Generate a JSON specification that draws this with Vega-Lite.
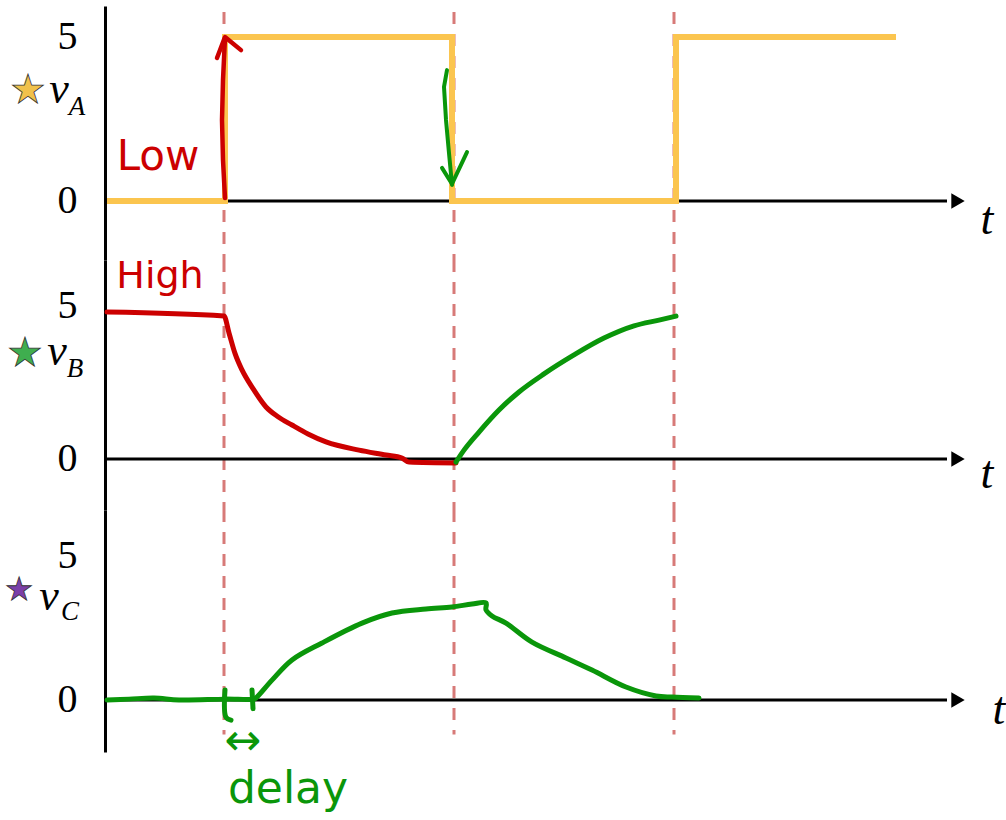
{
  "$schema": "https://vega.github.io/schema/vega-lite/v6.json",
  "padding": {"left": 4, "top": 6, "right": 0, "bottom": 0},
  "autosize": {"type": "pad"},
  "background": "white",
  "spacing": 0,
  "bounds": "flush",
  "config": {
    "view": {"stroke": null},
    "axisY": {"ticks": false, "grid": false, "domainColor": "black", "domainWidth": 3, "labelFont": "Liberation Serif", "labelFontSize": 40, "labelColor": "black", "labelPadding": 28, "labelFlush": false, "labelOverlap": false, "title": null},
    "line": {"strokeCap": "round", "strokeJoin": "round"}
  },
  "datasets": {
    "markers": [{"t": 11.9}, {"t": 34.9}, {"t": 56.9}],
    "one": [{}],
    "strokes": [
      {"s": "vA", "i": 0, "t": 0.2, "v": 0},
      {"s": "vA", "i": 1, "t": 12.0, "v": 0},
      {"s": "vA", "i": 2, "t": 12.0, "v": 5},
      {"s": "vA", "i": 3, "t": 34.7, "v": 5},
      {"s": "vA", "i": 4, "t": 34.7, "v": 0},
      {"s": "vA", "i": 5, "t": 57.1, "v": 0},
      {"s": "vA", "i": 6, "t": 57.1, "v": 5},
      {"s": "vA", "i": 7, "t": 79.1, "v": 5},
      {"s": "A_up_shaft", "i": 0, "t": 12.0, "v": 0.09},
      {"s": "A_up_shaft", "i": 1, "t": 11.8, "v": 1.25},
      {"s": "A_up_shaft", "i": 2, "t": 11.7, "v": 2.47},
      {"s": "A_up_shaft", "i": 3, "t": 11.8, "v": 3.69},
      {"s": "A_up_shaft", "i": 4, "t": 12.0, "v": 4.97},
      {"s": "A_up_head", "i": 0, "t": 11.2, "v": 4.36},
      {"s": "A_up_head", "i": 1, "t": 12.0, "v": 5.0},
      {"s": "A_up_head", "i": 2, "t": 13.6, "v": 4.6},
      {"s": "A_down_shaft", "i": 0, "t": 34.2, "v": 3.99},
      {"s": "A_down_shaft", "i": 1, "t": 33.9, "v": 3.48},
      {"s": "A_down_shaft", "i": 2, "t": 34.1, "v": 2.47},
      {"s": "A_down_shaft", "i": 3, "t": 34.4, "v": 1.46},
      {"s": "A_down_shaft", "i": 4, "t": 34.7, "v": 0.49},
      {"s": "A_down_head", "i": 0, "t": 33.7, "v": 1.01},
      {"s": "A_down_head", "i": 1, "t": 34.7, "v": 0.52},
      {"s": "A_down_head", "i": 2, "t": 36.2, "v": 1.49},
      {"s": "vB_fall", "i": 0, "t": 0.2, "v": 4.8},
      {"s": "vB_fall", "i": 1, "t": 11.9, "v": 4.67},
      {"s": "vB_fall", "i": 2, "t": 12.4, "v": 4.12},
      {"s": "vB_fall", "i": 3, "t": 13.0, "v": 3.45},
      {"s": "vB_fall", "i": 4, "t": 13.7, "v": 2.91},
      {"s": "vB_fall", "i": 5, "t": 14.8, "v": 2.3},
      {"s": "vB_fall", "i": 6, "t": 16.1, "v": 1.7},
      {"s": "vB_fall", "i": 7, "t": 17.3, "v": 1.38},
      {"s": "vB_fall", "i": 8, "t": 18.7, "v": 1.11},
      {"s": "vB_fall", "i": 9, "t": 20.3, "v": 0.82},
      {"s": "vB_fall", "i": 10, "t": 22.1, "v": 0.56},
      {"s": "vB_fall", "i": 11, "t": 25.4, "v": 0.29},
      {"s": "vB_fall", "i": 12, "t": 28.1, "v": 0.13},
      {"s": "vB_fall", "i": 13, "t": 29.7, "v": 0.03},
      {"s": "vB_fall", "i": 14, "t": 30.4, "v": -0.1},
      {"s": "vB_fall", "i": 15, "t": 35.1, "v": -0.13},
      {"s": "vB_rise", "i": 0, "t": 35.1, "v": -0.1},
      {"s": "vB_rise", "i": 1, "t": 35.9, "v": 0.29},
      {"s": "vB_rise", "i": 2, "t": 37.4, "v": 0.88},
      {"s": "vB_rise", "i": 3, "t": 39.4, "v": 1.6},
      {"s": "vB_rise", "i": 4, "t": 41.4, "v": 2.19},
      {"s": "vB_rise", "i": 5, "t": 43.9, "v": 2.78},
      {"s": "vB_rise", "i": 6, "t": 46.9, "v": 3.4},
      {"s": "vB_rise", "i": 7, "t": 49.9, "v": 3.95},
      {"s": "vB_rise", "i": 8, "t": 52.9, "v": 4.35},
      {"s": "vB_rise", "i": 9, "t": 55.4, "v": 4.54},
      {"s": "vB_rise", "i": 10, "t": 57.1, "v": 4.67},
      {"s": "vC", "i": 0, "t": 0.2, "v": 0},
      {"s": "vC", "i": 1, "t": 2.4, "v": 0.03},
      {"s": "vC", "i": 2, "t": 4.9, "v": 0.07},
      {"s": "vC", "i": 3, "t": 7.4, "v": 0},
      {"s": "vC", "i": 4, "t": 12.0, "v": 0.03},
      {"s": "vC", "i": 5, "t": 14.9, "v": 0.03},
      {"s": "vC", "i": 6, "t": 15.1, "v": 0.07},
      {"s": "vC", "i": 7, "t": 16.7, "v": 0.69},
      {"s": "vC", "i": 8, "t": 18.7, "v": 1.39},
      {"s": "vC", "i": 9, "t": 21.7, "v": 1.98},
      {"s": "vC", "i": 10, "t": 25.7, "v": 2.67},
      {"s": "vC", "i": 11, "t": 28.7, "v": 3.02},
      {"s": "vC", "i": 12, "t": 32.1, "v": 3.16},
      {"s": "vC", "i": 13, "t": 34.7, "v": 3.23},
      {"s": "vC", "i": 14, "t": 36.7, "v": 3.33},
      {"s": "vC", "i": 15, "t": 38.1, "v": 3.37},
      {"s": "vC", "i": 16, "t": 38.1, "v": 3.13},
      {"s": "vC", "i": 17, "t": 38.7, "v": 2.92},
      {"s": "vC", "i": 18, "t": 40.1, "v": 2.67},
      {"s": "vC", "i": 19, "t": 42.7, "v": 2.01},
      {"s": "vC", "i": 20, "t": 46.1, "v": 1.46},
      {"s": "vC", "i": 21, "t": 48.7, "v": 1.04},
      {"s": "vC", "i": 22, "t": 52.1, "v": 0.45},
      {"s": "vC", "i": 23, "t": 55.1, "v": 0.14},
      {"s": "vC", "i": 24, "t": 56.7, "v": 0.1},
      {"s": "vC", "i": 25, "t": 59.4, "v": 0.07},
      {"s": "C_tick1", "i": 0, "t": 12.0, "v": 0.35},
      {"s": "C_tick1", "i": 1, "t": 12.1, "v": -0.6},
      {"s": "C_tick1", "i": 2, "t": 12.6, "v": -0.7},
      {"s": "C_tick2", "i": 0, "t": 14.7, "v": 0.35},
      {"s": "C_tick2", "i": 1, "t": 14.8, "v": -0.3}
    ]
  },
  "vconcat": [
    {
      "width": 900,
      "height": 254,
      "layer": [
        {
          "data": {"name": "markers"},
          "mark": {"type": "rule", "color": "#d77a78", "strokeWidth": 3, "strokeDash": [12, 10]},
          "encoding": {
            "x": {"field": "t", "type": "quantitative", "scale": {"domain": [0, 90], "nice": false, "zero": false}, "axis": null},
            "y": {"datum": 5.76, "type": "quantitative", "scale": {"domain": [-1.799, 5.945], "nice": false, "zero": false}, "axis": {"values": [0, 5], "title": null}},
            "y2": {"datum": -1.8}
          }
        },
        {
          "data": {"name": "one"},
          "mark": {"type": "rule", "color": "black", "strokeWidth": 3},
          "encoding": {
            "x": {"datum": 0, "type": "quantitative", "scale": {"domain": [0, 90], "nice": false, "zero": false}, "axis": null},
            "x2": {"datum": 84.2},
            "y": {"datum": 0, "type": "quantitative", "scale": {"domain": [-1.799, 5.945], "nice": false, "zero": false}, "axis": {"values": [0, 5], "title": null}}
          }
        },
        {
          "data": {"name": "one"},
          "mark": {"type": "point", "shape": "triangle-right", "filled": true, "color": "black", "opacity": 1, "size": 240},
          "encoding": {
            "x": {"datum": 85.3, "type": "quantitative", "scale": {"domain": [0, 90], "nice": false, "zero": false}, "axis": null},
            "y": {"datum": 0, "type": "quantitative", "scale": {"domain": [-1.799, 5.945], "nice": false, "zero": false}, "axis": {"values": [0, 5], "title": null}}
          }
        },
        {
          "data": {"name": "one"},
          "mark": {"type": "text", "text": "t", "font": "Liberation Serif", "fontStyle": "italic", "fontSize": 46, "color": "black", "baseline": "alphabetic", "align": "center"},
          "encoding": {
            "x": {"datum": 88.2, "type": "quantitative", "scale": {"domain": [0, 90], "nice": false, "zero": false}, "axis": null},
            "y": {"datum": -1.01, "type": "quantitative", "scale": {"domain": [-1.799, 5.945], "nice": false, "zero": false}, "axis": {"values": [0, 5], "title": null}}
          }
        },
        {
          "data": {"name": "strokes"},
          "transform": [{"filter": {"field": "s", "equal": "vA"}}],
          "mark": {"type": "line", "color": "#fbc54f", "strokeWidth": 6, "strokeCap": "butt", "strokeJoin": "miter"},
          "encoding": {
            "x": {"field": "t", "type": "quantitative", "scale": {"domain": [0, 90], "nice": false, "zero": false}, "axis": null},
            "y": {"field": "v", "type": "quantitative", "scale": {"domain": [-1.799, 5.945], "nice": false, "zero": false}, "axis": {"values": [0, 5], "title": null}},
            "order": {"field": "i", "type": "quantitative"}
          }
        },
        {
          "data": {"name": "strokes"},
          "transform": [{"filter": {"field": "s", "oneOf": ["A_up_shaft", "A_up_head"]}}],
          "mark": {"type": "line", "color": "#cc0000", "strokeWidth": 4.5},
          "encoding": {
            "x": {"field": "t", "type": "quantitative", "scale": {"domain": [0, 90], "nice": false, "zero": false}, "axis": null},
            "y": {"field": "v", "type": "quantitative", "scale": {"domain": [-1.799, 5.945], "nice": false, "zero": false}, "axis": {"values": [0, 5], "title": null}},
            "detail": {"field": "s"},
            "order": {"field": "i", "type": "quantitative"}
          }
        },
        {
          "data": {"name": "strokes"},
          "transform": [{"filter": {"field": "s", "oneOf": ["A_down_shaft", "A_down_head"]}}],
          "mark": {"type": "line", "color": "#0a960a", "strokeWidth": 4},
          "encoding": {
            "x": {"field": "t", "type": "quantitative", "scale": {"domain": [0, 90], "nice": false, "zero": false}, "axis": null},
            "y": {"field": "v", "type": "quantitative", "scale": {"domain": [-1.799, 5.945], "nice": false, "zero": false}, "axis": {"values": [0, 5], "title": null}},
            "detail": {"field": "s"},
            "order": {"field": "i", "type": "quantitative"}
          }
        },
        {
          "data": {"name": "one"},
          "mark": {"type": "text", "text": "Low", "font": "DejaVu Sans", "fontSize": 42, "color": "#cc0000", "baseline": "alphabetic", "align": "center"},
          "encoding": {
            "x": {"datum": 5.3, "type": "quantitative", "scale": {"domain": [0, 90], "nice": false, "zero": false}, "axis": null},
            "y": {"datum": 0.95, "type": "quantitative", "scale": {"domain": [-1.799, 5.945], "nice": false, "zero": false}, "axis": {"values": [0, 5], "title": null}}
          }
        },
        {
          "data": {"name": "one"},
          "mark": {"type": "text", "text": "★", "font": "DejaVu Sans", "fontSize": 40, "color": "#f0c14b", "stroke": "#333333", "strokeWidth": 0.8, "baseline": "middle", "align": "center"},
          "encoding": {
            "x": {"datum": -7.7, "type": "quantitative", "scale": {"domain": [0, 90], "nice": false, "zero": false}, "axis": null},
            "y": {"datum": 3.35, "type": "quantitative", "scale": {"domain": [-1.799, 5.945], "nice": false, "zero": false}, "axis": {"values": [0, 5], "title": null}}
          }
        },
        {
          "data": {"name": "one"},
          "mark": {"type": "text", "text": "v", "font": "Liberation Serif", "fontStyle": "italic", "fontSize": 44, "color": "black", "baseline": "alphabetic", "align": "center"},
          "encoding": {
            "x": {"datum": -4.6, "type": "quantitative", "scale": {"domain": [0, 90], "nice": false, "zero": false}, "axis": null},
            "y": {"datum": 2.99, "type": "quantitative", "scale": {"domain": [-1.799, 5.945], "nice": false, "zero": false}, "axis": {"values": [0, 5], "title": null}}
          }
        },
        {
          "data": {"name": "one"},
          "mark": {"type": "text", "text": "A", "font": "Liberation Serif", "fontStyle": "italic", "fontSize": 27, "color": "black", "baseline": "alphabetic", "align": "center"},
          "encoding": {
            "x": {"datum": -2.8, "type": "quantitative", "scale": {"domain": [0, 90], "nice": false, "zero": false}, "axis": null},
            "y": {"datum": 2.62, "type": "quantitative", "scale": {"domain": [-1.799, 5.945], "nice": false, "zero": false}, "axis": {"values": [0, 5], "title": null}}
          }
        }
      ]
    },
    {
      "width": 900,
      "height": 250,
      "layer": [
        {
          "data": {"name": "markers"},
          "mark": {"type": "rule", "color": "#d77a78", "strokeWidth": 3, "strokeDash": [12, 10]},
          "encoding": {
            "x": {"field": "t", "type": "quantitative", "scale": {"domain": [0, 90], "nice": false, "zero": false}, "axis": null},
            "y": {"datum": 6.503, "type": "quantitative", "scale": {"domain": [-1.667, 6.503], "nice": false, "zero": false}, "axis": {"values": [0, 5], "title": null}},
            "y2": {"datum": -1.667}
          }
        },
        {
          "data": {"name": "one"},
          "mark": {"type": "rule", "color": "black", "strokeWidth": 3},
          "encoding": {
            "x": {"datum": 0, "type": "quantitative", "scale": {"domain": [0, 90], "nice": false, "zero": false}, "axis": null},
            "x2": {"datum": 84.2},
            "y": {"datum": 0, "type": "quantitative", "scale": {"domain": [-1.667, 6.503], "nice": false, "zero": false}, "axis": {"values": [0, 5], "title": null}}
          }
        },
        {
          "data": {"name": "one"},
          "mark": {"type": "point", "shape": "triangle-right", "filled": true, "color": "black", "opacity": 1, "size": 240},
          "encoding": {
            "x": {"datum": 85.3, "type": "quantitative", "scale": {"domain": [0, 90], "nice": false, "zero": false}, "axis": null},
            "y": {"datum": 0, "type": "quantitative", "scale": {"domain": [-1.667, 6.503], "nice": false, "zero": false}, "axis": {"values": [0, 5], "title": null}}
          }
        },
        {
          "data": {"name": "one"},
          "mark": {"type": "text", "text": "t", "font": "Liberation Serif", "fontStyle": "italic", "fontSize": 46, "color": "black", "baseline": "alphabetic", "align": "center"},
          "encoding": {
            "x": {"datum": 88.2, "type": "quantitative", "scale": {"domain": [0, 90], "nice": false, "zero": false}, "axis": null},
            "y": {"datum": -0.95, "type": "quantitative", "scale": {"domain": [-1.667, 6.503], "nice": false, "zero": false}, "axis": {"values": [0, 5], "title": null}}
          }
        },
        {
          "data": {"name": "strokes"},
          "transform": [{"filter": {"field": "s", "equal": "vB_fall"}}],
          "mark": {"type": "line", "color": "#cc0000", "strokeWidth": 5, "interpolate": "monotone"},
          "encoding": {
            "x": {"field": "t", "type": "quantitative", "scale": {"domain": [0, 90], "nice": false, "zero": false}, "axis": null},
            "y": {"field": "v", "type": "quantitative", "scale": {"domain": [-1.667, 6.503], "nice": false, "zero": false}, "axis": {"values": [0, 5], "title": null}},
            "order": {"field": "i", "type": "quantitative"}
          }
        },
        {
          "data": {"name": "strokes"},
          "transform": [{"filter": {"field": "s", "equal": "vB_rise"}}],
          "mark": {"type": "line", "color": "#0a960a", "strokeWidth": 5, "interpolate": "monotone"},
          "encoding": {
            "x": {"field": "t", "type": "quantitative", "scale": {"domain": [0, 90], "nice": false, "zero": false}, "axis": null},
            "y": {"field": "v", "type": "quantitative", "scale": {"domain": [-1.667, 6.503], "nice": false, "zero": false}, "axis": {"values": [0, 5], "title": null}},
            "order": {"field": "i", "type": "quantitative"}
          }
        },
        {
          "data": {"name": "one"},
          "mark": {"type": "text", "text": "High", "font": "DejaVu Sans", "fontSize": 38, "color": "#cc0000", "baseline": "alphabetic", "align": "center"},
          "encoding": {
            "x": {"datum": 5.5, "type": "quantitative", "scale": {"domain": [0, 90], "nice": false, "zero": false}, "axis": null},
            "y": {"datum": 5.59, "type": "quantitative", "scale": {"domain": [-1.667, 6.503], "nice": false, "zero": false}, "axis": {"values": [0, 5], "title": null}}
          }
        },
        {
          "data": {"name": "one"},
          "mark": {"type": "text", "text": "★", "font": "DejaVu Sans", "fontSize": 40, "color": "#3fae4f", "stroke": "#333333", "strokeWidth": 0.8, "baseline": "middle", "align": "center"},
          "encoding": {
            "x": {"datum": -8.0, "type": "quantitative", "scale": {"domain": [0, 90], "nice": false, "zero": false}, "axis": null},
            "y": {"datum": 3.43, "type": "quantitative", "scale": {"domain": [-1.667, 6.503], "nice": false, "zero": false}, "axis": {"values": [0, 5], "title": null}}
          }
        },
        {
          "data": {"name": "one"},
          "mark": {"type": "text", "text": "v", "font": "Liberation Serif", "fontStyle": "italic", "fontSize": 44, "color": "black", "baseline": "alphabetic", "align": "center"},
          "encoding": {
            "x": {"datum": -4.8, "type": "quantitative", "scale": {"domain": [0, 90], "nice": false, "zero": false}, "axis": null},
            "y": {"datum": 3.07, "type": "quantitative", "scale": {"domain": [-1.667, 6.503], "nice": false, "zero": false}, "axis": {"values": [0, 5], "title": null}}
          }
        },
        {
          "data": {"name": "one"},
          "mark": {"type": "text", "text": "B", "font": "Liberation Serif", "fontStyle": "italic", "fontSize": 27, "color": "black", "baseline": "alphabetic", "align": "center"},
          "encoding": {
            "x": {"datum": -3.0, "type": "quantitative", "scale": {"domain": [0, 90], "nice": false, "zero": false}, "axis": null},
            "y": {"datum": 2.68, "type": "quantitative", "scale": {"domain": [-1.667, 6.503], "nice": false, "zero": false}, "axis": {"values": [0, 5], "title": null}}
          }
        }
      ]
    },
    {
      "width": 900,
      "height": 242,
      "layer": [
        {
          "data": {"name": "markers"},
          "mark": {"type": "rule", "color": "#d77a78", "strokeWidth": 3, "strokeDash": [12, 10]},
          "encoding": {
            "x": {"field": "t", "type": "quantitative", "scale": {"domain": [0, 90], "nice": false, "zero": false}, "axis": null},
            "y": {"datum": 6.597, "type": "quantitative", "scale": {"domain": [-1.806, 6.597], "nice": false, "zero": false}, "axis": {"values": [0, 5], "title": null}},
            "y2": {"datum": -1.2}
          }
        },
        {
          "data": {"name": "one"},
          "mark": {"type": "rule", "color": "black", "strokeWidth": 3},
          "encoding": {
            "x": {"datum": 0, "type": "quantitative", "scale": {"domain": [0, 90], "nice": false, "zero": false}, "axis": null},
            "x2": {"datum": 84.2},
            "y": {"datum": 0, "type": "quantitative", "scale": {"domain": [-1.806, 6.597], "nice": false, "zero": false}, "axis": {"values": [0, 5], "title": null}}
          }
        },
        {
          "data": {"name": "one"},
          "mark": {"type": "point", "shape": "triangle-right", "filled": true, "color": "black", "opacity": 1, "size": 240},
          "encoding": {
            "x": {"datum": 85.3, "type": "quantitative", "scale": {"domain": [0, 90], "nice": false, "zero": false}, "axis": null},
            "y": {"datum": 0, "type": "quantitative", "scale": {"domain": [-1.806, 6.597], "nice": false, "zero": false}, "axis": {"values": [0, 5], "title": null}}
          }
        },
        {
          "data": {"name": "one"},
          "mark": {"type": "text", "text": "t", "font": "Liberation Serif", "fontStyle": "italic", "fontSize": 46, "color": "black", "baseline": "alphabetic", "align": "center"},
          "encoding": {
            "x": {"datum": 89.4, "type": "quantitative", "scale": {"domain": [0, 90], "nice": false, "zero": false}, "axis": null},
            "y": {"datum": -0.83, "type": "quantitative", "scale": {"domain": [-1.806, 6.597], "nice": false, "zero": false}, "axis": {"values": [0, 5], "title": null}}
          }
        },
        {
          "data": {"name": "strokes"},
          "transform": [{"filter": {"field": "s", "oneOf": ["vC", "C_tick1", "C_tick2"]}}],
          "mark": {"type": "line", "color": "#0a960a", "strokeWidth": 5, "interpolate": "catmull-rom"},
          "encoding": {
            "x": {"field": "t", "type": "quantitative", "scale": {"domain": [0, 90], "nice": false, "zero": false}, "axis": null},
            "y": {"field": "v", "type": "quantitative", "scale": {"domain": [-1.806, 6.597], "nice": false, "zero": false}, "axis": {"values": [0, 5], "title": null}},
            "detail": {"field": "s"},
            "order": {"field": "i", "type": "quantitative"}
          }
        },
        {
          "data": {"name": "one"},
          "mark": {"type": "text", "text": "↔", "font": "DejaVu Sans", "fontSize": 44, "color": "#0a960a", "baseline": "middle", "align": "center"},
          "encoding": {
            "x": {"datum": 13.8, "type": "quantitative", "scale": {"domain": [0, 90], "nice": false, "zero": false}, "axis": null},
            "y": {"datum": -1.46, "type": "quantitative", "scale": {"domain": [-1.806, 6.597], "nice": false, "zero": false}, "axis": {"values": [0, 5], "title": null}}
          }
        },
        {
          "data": {"name": "one"},
          "mark": {"type": "text", "text": "delay", "font": "DejaVu Sans", "fontSize": 44, "color": "#0a960a", "baseline": "alphabetic", "align": "center"},
          "encoding": {
            "x": {"datum": 18.3, "type": "quantitative", "scale": {"domain": [0, 90], "nice": false, "zero": false}, "axis": null},
            "y": {"datum": -3.58, "type": "quantitative", "scale": {"domain": [-1.806, 6.597], "nice": false, "zero": false}, "axis": {"values": [0, 5], "title": null}}
          }
        },
        {
          "data": {"name": "one"},
          "mark": {"type": "text", "text": "★", "font": "DejaVu Sans", "fontSize": 32, "color": "#7b3fa8", "stroke": "#333333", "strokeWidth": 0.8, "baseline": "middle", "align": "center"},
          "encoding": {
            "x": {"datum": -8.6, "type": "quantitative", "scale": {"domain": [0, 90], "nice": false, "zero": false}, "axis": null},
            "y": {"datum": 3.82, "type": "quantitative", "scale": {"domain": [-1.806, 6.597], "nice": false, "zero": false}, "axis": {"values": [0, 5], "title": null}}
          }
        },
        {
          "data": {"name": "one"},
          "mark": {"type": "text", "text": "v", "font": "Liberation Serif", "fontStyle": "italic", "fontSize": 44, "color": "black", "baseline": "alphabetic", "align": "center"},
          "encoding": {
            "x": {"datum": -5.6, "type": "quantitative", "scale": {"domain": [0, 90], "nice": false, "zero": false}, "axis": null},
            "y": {"datum": 3.125, "type": "quantitative", "scale": {"domain": [-1.806, 6.597], "nice": false, "zero": false}, "axis": {"values": [0, 5], "title": null}}
          }
        },
        {
          "data": {"name": "one"},
          "mark": {"type": "text", "text": "C", "font": "Liberation Serif", "fontStyle": "italic", "fontSize": 27, "color": "black", "baseline": "alphabetic", "align": "center"},
          "encoding": {
            "x": {"datum": -3.5, "type": "quantitative", "scale": {"domain": [0, 90], "nice": false, "zero": false}, "axis": null},
            "y": {"datum": 2.78, "type": "quantitative", "scale": {"domain": [-1.806, 6.597], "nice": false, "zero": false}, "axis": {"values": [0, 5], "title": null}}
          }
        }
      ]
    }
  ]
}
